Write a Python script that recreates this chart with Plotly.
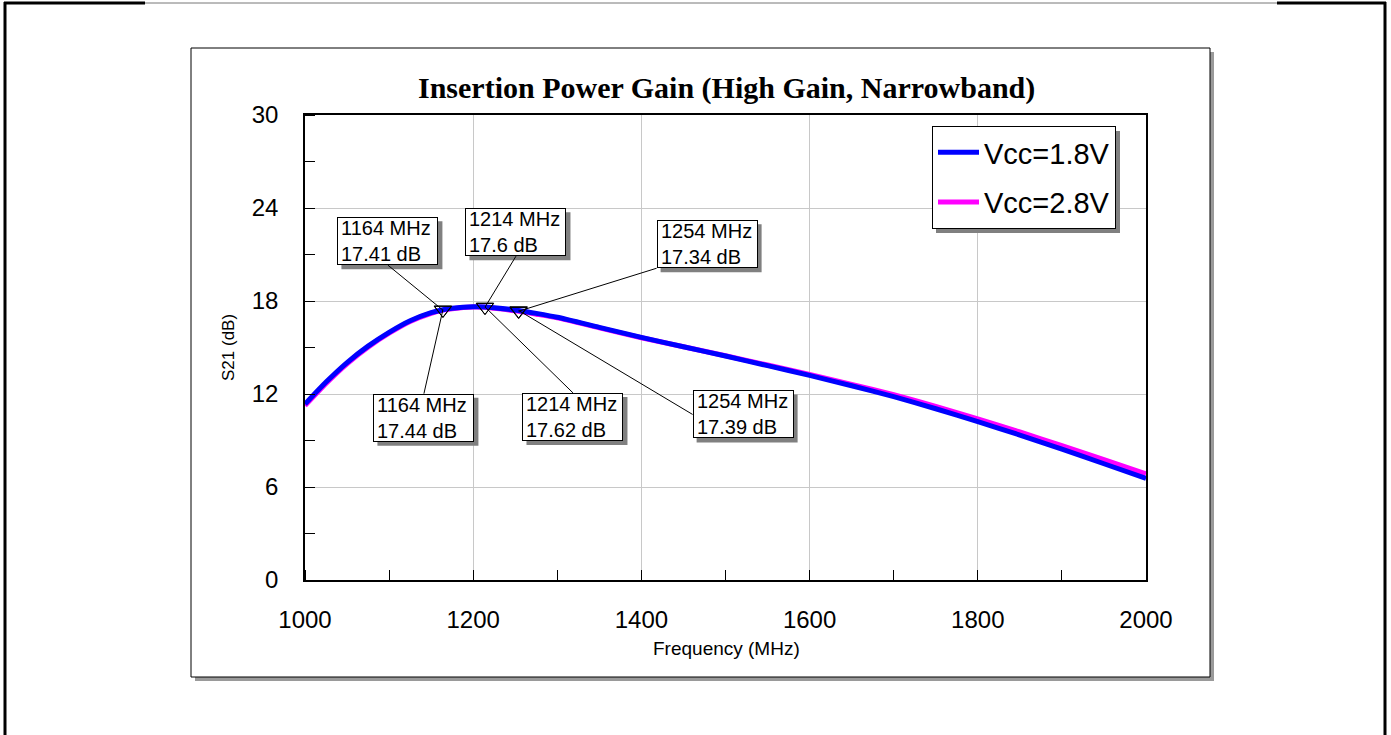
import plotly.graph_objects as go

# ---------------- data ----------------
freq = [1000, 1025, 1050, 1075, 1100, 1125, 1150, 1164, 1175, 1200, 1214, 1225, 1254, 1275,
        1300, 1350, 1400, 1450, 1500, 1550, 1600, 1650, 1700, 1750, 1800, 1850, 1900, 1950, 2000]
gain_18 = [11.35, 12.77, 14.03, 15.09, 15.98, 16.73, 17.25, 17.44, 17.53, 17.63, 17.62, 17.57, 17.39, 17.2,
           16.95, 16.3, 15.65, 15.05, 14.45, 13.83, 13.2, 12.53, 11.83, 11.05, 10.22, 9.35, 8.45, 7.5, 6.55]
gain_28 = [11.25, 12.68, 13.95, 15.02, 15.92, 16.68, 17.21, 17.41, 17.5, 17.61, 17.6, 17.53, 17.34, 17.15,
           16.91, 16.27, 15.63, 15.05, 14.47, 13.87, 13.26, 12.62, 11.95, 11.2, 10.4, 9.55, 8.67, 7.76, 6.85]
marker_freq = [1164, 1214, 1254]
marker_18 = [17.44, 17.62, 17.39]
marker_28 = [17.41, 17.6, 17.34]
series_names = ["Vcc=1.8V", "Vcc=2.8V"]
x_ticks = [1000, 1200, 1400, 1600, 1800, 2000]
y_ticks = [0, 6, 12, 18, 24, 30]

# ---------------- layout geometry (pixels) ----------------
W_FIG, H_FIG = 1391, 735
L, R, T, B = 305, 1146, 115, 580
PW, PH = R - L, B - T


def px(x):
    return (x - L) / PW


def py(y):
    return (B - y) / PH


SANS = "Arial, Liberation Sans, sans-serif"
SERIF = "Times New Roman, Liberation Serif, serif"
SHADOW = "#808080"

fig = go.Figure()

fig.add_trace(go.Scatter(x=freq, y=gain_28, mode="lines", name=series_names[1],
                         line=dict(color="#ff00ff", width=5, shape="spline", smoothing=0.6),
                         legendgroup="b", legendrank=2))
fig.add_trace(go.Scatter(x=freq, y=gain_18, mode="lines", name=series_names[0],
                         line=dict(color="#0000ff", width=5, shape="spline", smoothing=0.6),
                         legendgroup="a", legendrank=1))
fig.add_trace(go.Scatter(x=marker_freq + marker_freq, y=marker_18 + marker_28, mode="markers",
                         showlegend=False,
                         marker=dict(symbol="triangle-down-open", size=15, color="black",
                                     line=dict(width=1, color="black"))))

shapes = []
# outer border
shapes.append(dict(type="line", xref="paper", yref="paper", x0=px(5), x1=px(5), y0=py(2), y1=py(740),
                   line=dict(color="black", width=3)))
shapes.append(dict(type="line", xref="paper", yref="paper", x0=px(1385), x1=px(1385), y0=py(2), y1=py(740),
                   line=dict(color="black", width=3)))
shapes.append(dict(type="line", xref="paper", yref="paper", x0=px(4), x1=px(145), y0=py(3), y1=py(3),
                   line=dict(color="black", width=3)))
shapes.append(dict(type="line", xref="paper", yref="paper", x0=px(145), x1=px(1277), y0=py(3), y1=py(3),
                   line=dict(color="#777777", width=1)))
shapes.append(dict(type="line", xref="paper", yref="paper", x0=px(1277), x1=px(1386), y0=py(3), y1=py(3),
                   line=dict(color="black", width=3)))
# chart frame with shadow
shapes.append(dict(type="rect", xref="paper", yref="paper", x0=px(195), x1=px(1214), y0=py(52), y1=py(681),
                   fillcolor="#9a9a9a", line=dict(width=0), layer="below"))
shapes.append(dict(type="rect", xref="paper", yref="paper", x0=px(191), x1=px(1210), y0=py(48), y1=py(677),
                   fillcolor="white", line=dict(color="black", width=1), layer="below"))
# legend shadow
shapes.append(dict(type="rect", xref="paper", yref="paper", x0=px(936), x1=px(1120), y0=py(131), y1=py(233),
                   fillcolor=SHADOW, line=dict(width=0), layer="above"))

annotations = []
annotations.append(dict(text="<b>Insertion Power Gain (High Gain, Narrowband)</b>", xref="paper", yref="paper",
                        x=px(726), y=py(88), xanchor="center", yanchor="middle", showarrow=False,
                        font=dict(family=SERIF, size=30, color="black")))
annotations.append(dict(text="Frequency (MHz)", xref="paper", yref="paper", x=px(726), y=py(648),
                        xanchor="center", yanchor="middle",
                        showarrow=False, font=dict(family=SANS, size=19, color="black")))
annotations.append(dict(text="S21 (dB)", xref="paper", yref="paper", x=px(228), y=py(348), textangle=-90,
                        xanchor="center", yanchor="middle",
                        showarrow=False, font=dict(family=SANS, size=17, color="black")))

# marker callouts: (xanchor, yanchor, ax, ay)
upper_pos = [("center", "bottom", -55, -45), ("center", "bottom", 31, -51), ("left", "bottom", 138, -43)]
lower_pos = [("center", "top", -19, 84), ("center", "top", 88, 86), ("left", "middle", 174, 104)]
BOX_IN_W, BOX_IN_H, PAD = 93, 40, 3
BOX_W, BOX_H = BOX_IN_W + 2 * PAD + 2, BOX_IN_H + 2 * PAD + 2
SH = 4


def callout(f, v, pos):
    xa, ya, ax, ay = pos
    bx0 = ax - {"left": 0, "center": BOX_W / 2, "right": BOX_W}[xa]
    by0 = ay - {"top": 0, "middle": BOX_H / 2, "bottom": BOX_H}[ya]
    shapes.append(dict(type="rect", xref="x", yref="y", xsizemode="pixel", ysizemode="pixel",
                       xanchor=f, yanchor=v, x0=bx0 + SH, x1=bx0 + BOX_W + SH,
                       y0=-(by0 + SH), y1=-(by0 + BOX_H + SH),
                       fillcolor=SHADOW, line=dict(width=0), layer="above"))
    annotations.append(dict(x=f, y=v, xref="x", yref="y", text=f"{f} MHz<br>{v} dB", align="left",
                            width=BOX_IN_W, height=BOX_IN_H, borderpad=PAD, borderwidth=1,
                            xanchor=xa, yanchor=ya, showarrow=True, arrowhead=0, ax=ax, ay=ay,
                            arrowwidth=1, arrowcolor="black", bgcolor="white", bordercolor="black",
                            font=dict(family=SANS, size=20, color="black")))


for f, v, p in zip(marker_freq, marker_28, upper_pos):
    callout(f, v, p)
for f, v, p in zip(marker_freq, marker_18, lower_pos):
    callout(f, v, p)

fig.update_layout(
    width=W_FIG, height=H_FIG,
    margin=dict(l=L, r=W_FIG - R, t=T, b=H_FIG - B, pad=0),
    paper_bgcolor="white", plot_bgcolor="white",
    shapes=shapes, annotations=annotations,
    legend=dict(x=px(932), y=py(126), xanchor="left", yanchor="top", bgcolor="white",
                bordercolor="black", borderwidth=1, traceorder="grouped", tracegroupgap=9,
                itemwidth=41, font=dict(family=SANS, size=29, color="black")),
    xaxis=dict(range=[1000, 2000], tickvals=x_ticks, showgrid=True, gridcolor="#c8c8c8", gridwidth=1,
               zeroline=False, showline=True, linecolor="black", linewidth=1.5, mirror=True, ticks="",
               ticklabelstandoff=17, tickfont=dict(family=SANS, size=24, color="black"),
               minor=dict(dtick=100, tick0=1000, ticks="inside", ticklen=10, tickcolor="black",
                          tickwidth=1, showgrid=False)),
    yaxis=dict(range=[0, 30], tickvals=y_ticks, showgrid=True, gridcolor="#c8c8c8", gridwidth=1,
               zeroline=False, showline=True, linecolor="black", linewidth=1.5, mirror=True, ticks="",
               ticklabelstandoff=20, tickfont=dict(family=SANS, size=24, color="black"),
               minor=dict(dtick=3, tick0=0, ticks="inside", ticklen=10, tickcolor="black",
                          tickwidth=1, showgrid=False)),
)

fig.write_html("out.html")
